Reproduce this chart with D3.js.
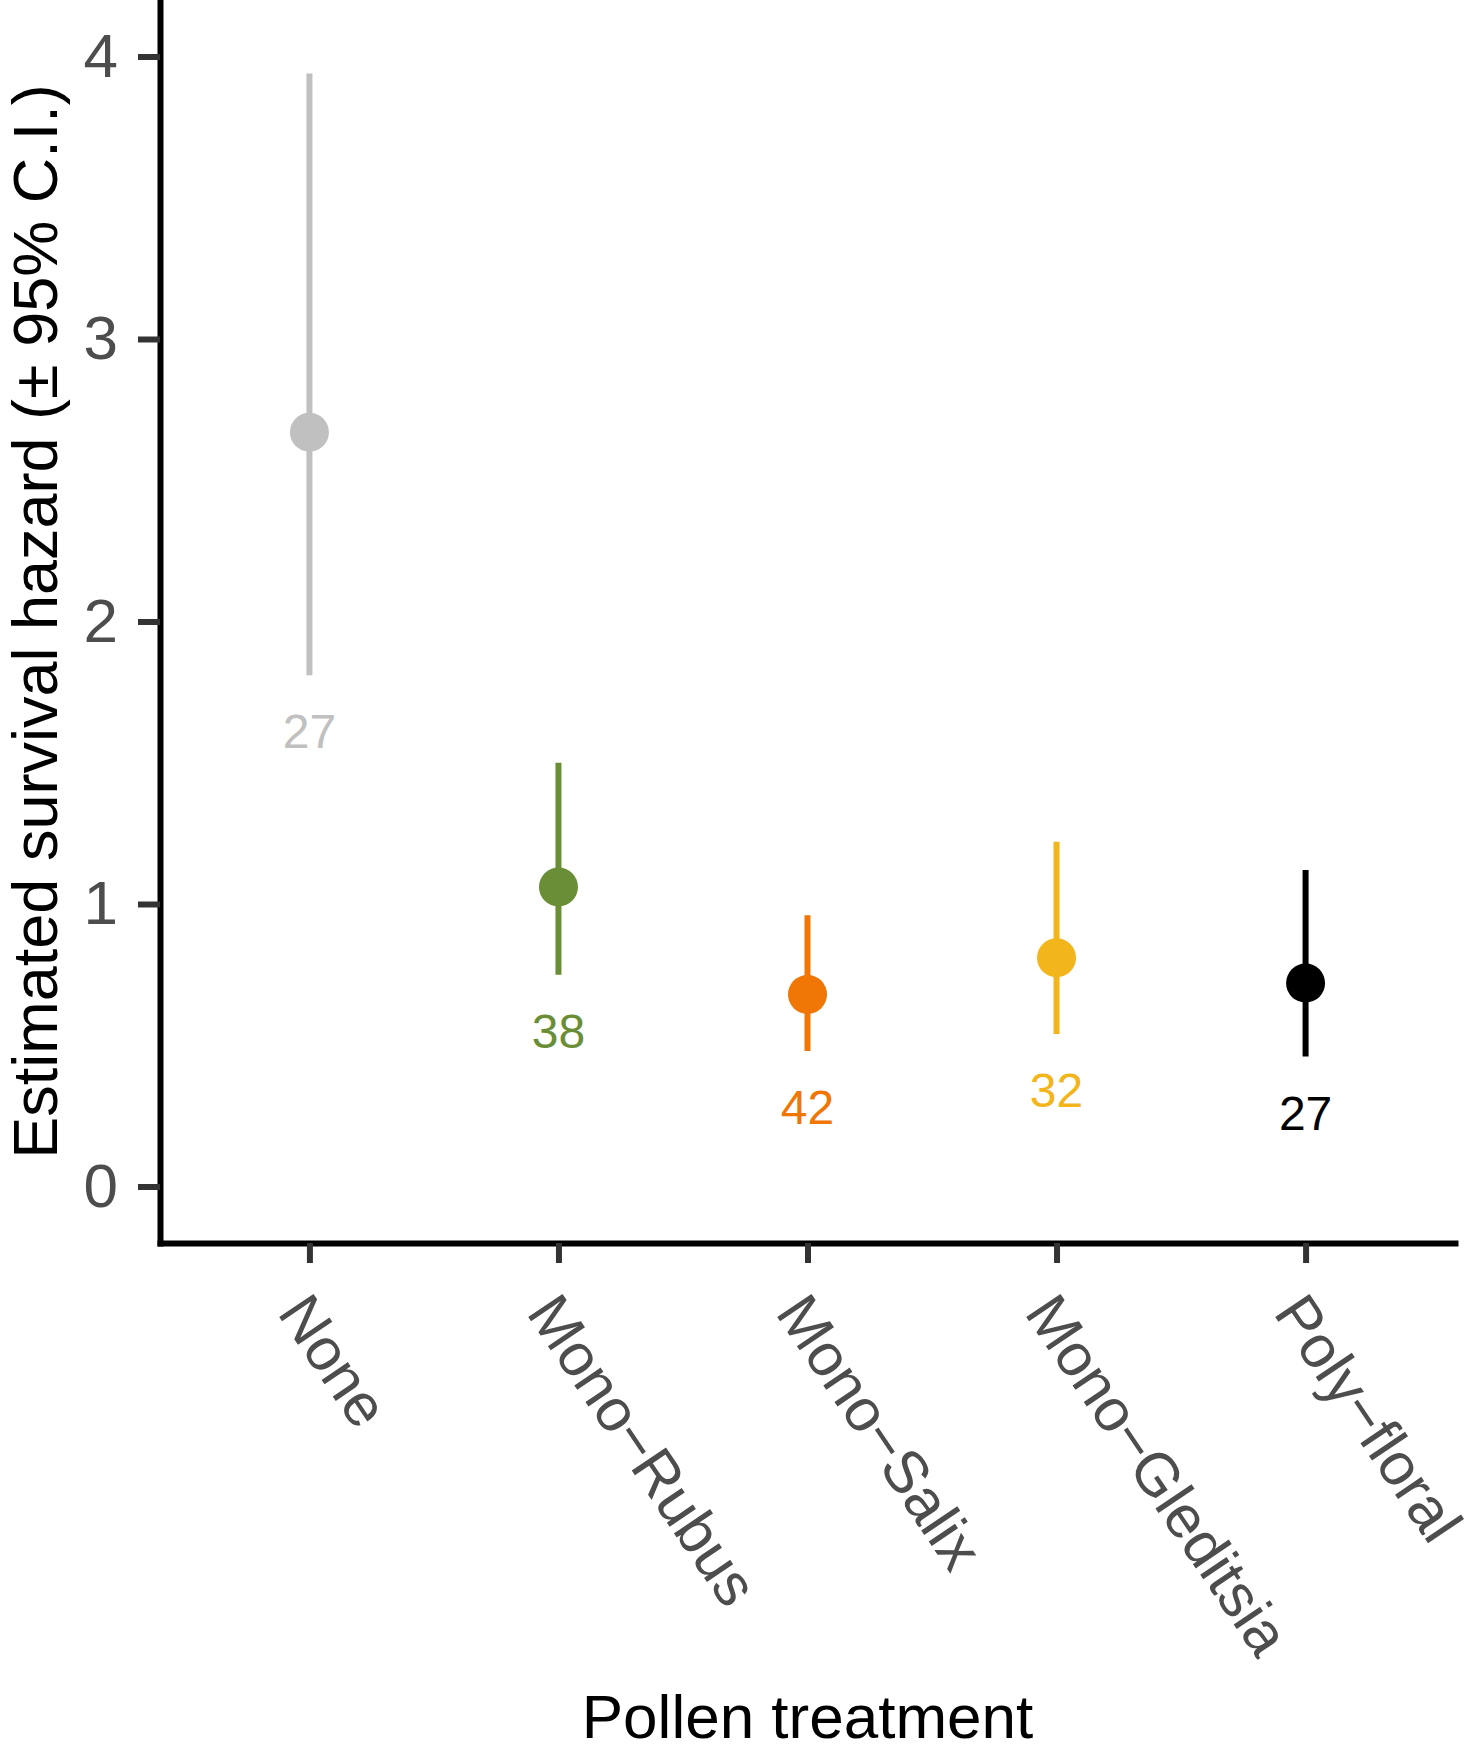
<!DOCTYPE html>
<html>
<head>
<meta charset="utf-8">
<script src="https://cdn.jsdelivr.net/npm/d3@7"></script>
<style>
  body { margin:0; background:#fff; }
  svg { display:block; font-family:'Liberation Sans', Arial, Helvetica, sans-serif; }
</style>
</head>
<body>
<svg id="chart" width="1476" height="1752"></svg>
<script>
'use strict';
// values
var categories = ['None','Mono\u2212Rubus','Mono\u2212Salix','Mono\u2212Gleditsia','Poly\u2212floral'],
	estimate = [2.67, 1.06, 0.68, 0.81, 0.72],
	lowerCI = [1.81, 0.75, 0.48, 0.54, 0.46],
	upperCI = [3.94, 1.50, 0.96, 1.22, 1.12],
	sampleSize = [27, 38, 42, 32, 27],
	colours = ['#c0c0c0','#6a8e36','#f07605','#f2b51b','#000000'],
	yTicks = [0, 1, 2, 3, 4];

var rows = categories.map(function(c,i){
		return {key:c, est:estimate[i], lo:lowerCI[i], hi:upperCI[i], n:sampleSize[i], color:colours[i]};
	});

var svg = d3.select('#chart');

var plotLeft = 160, plotRight = 1455, plotTop = 0, plotBottom = 1243;

var xScale = d3.scalePoint().domain(categories).range([plotLeft,plotRight]).padding(0.6),
	yScale = d3.scaleLinear().domain([-0.2,4.2]).range([plotBottom,plotTop]);

var yAxis = d3.axisLeft(yScale).tickValues(yTicks).tickFormat(d3.format('d'))
				.tickSize(22).tickSizeOuter(0).tickPadding(20),
	xAxis = d3.axisBottom(xScale).tickSize(20).tickSizeOuter(0).tickFormat('');

//render axes
var gy = svg.append('g').attr('id','yaxis')
			.attr('transform','translate('+plotLeft+',0)')
			.call(yAxis);
gy.select('.domain').attr('stroke','#000').attr('stroke-width',6).attr('stroke-linecap','square');
gy.selectAll('.tick line').attr('stroke','#333').attr('stroke-width',6);
gy.selectAll('.tick text')
	.attr('fill','#4d4d4d')
	.style('font-size','62px')
	.style('font-family','Liberation Sans, Arial, Helvetica, sans-serif');

var gx = svg.append('g').attr('id','xaxis')
			.attr('transform','translate(0,'+plotBottom+')')
			.call(xAxis);
gx.select('.domain').attr('stroke','#000').attr('stroke-width',6).attr('stroke-linecap','square');
gx.selectAll('.tick line').attr('stroke','#333').attr('stroke-width',6);

// rotated category labels
svg.append('g').attr('id','xlabels')
	.selectAll('text')
	.data(categories)
	.enter()
	.append('text')
	.attr('transform',function(d){ return 'translate('+(xScale(d)-33)+',1313) rotate(56)'; })
	.style('font-size','60px')
	.style('fill','#4d4d4d')
	.text(function(d){ return d; });

// error bars, points, sample sizes
var marks = svg.append('g').attr('id','mainParts')
				.selectAll('g')
				.data(rows)
				.enter()
				.append('g');

marks.append('line')
	.attr('x1',function(d){ return xScale(d.key); })
	.attr('x2',function(d){ return xScale(d.key); })
	.attr('y1',function(d){ return yScale(d.lo); })
	.attr('y2',function(d){ return yScale(d.hi); })
	.style('stroke',function(d){ return d.color; })
	.style('stroke-width','6px');

marks.append('circle')
	.attr('cx',function(d){ return xScale(d.key); })
	.attr('cy',function(d){ return yScale(d.est); })
	.attr('r',19.5)
	.style('fill',function(d){ return d.color; });

marks.append('text')
	.attr('x',function(d){ return xScale(d.key); })
	.attr('y',function(d){ return yScale(d.lo)+73; })
	.style('text-anchor','middle')
	.style('font-size','48px')
	.style('fill',function(d){ return d.color; })
	.text(function(d){ return d.n; });

// axis titles
svg.append('text')
	.attr('transform','translate(57,'+((plotTop+plotBottom)/2)+') rotate(-90)')
	.style('text-anchor','middle')
	.style('font-size','63px')
	.style('fill','#000')
	.text('Estimated survival hazard (\u00b1 95% C.I.)');

svg.append('text')
	.attr('x',(plotLeft+plotRight)/2)
	.attr('y',1738)
	.style('text-anchor','middle')
	.style('font-size','62px')
	.style('fill','#000')
	.text('Pollen treatment');
</script>
</body>
</html>
